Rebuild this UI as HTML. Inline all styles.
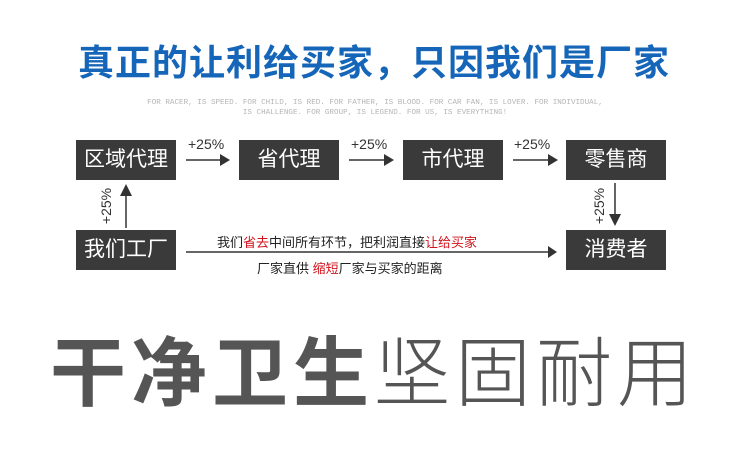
<!DOCTYPE html>
<html><head><meta charset="utf-8"><style>
body{margin:0;width:750px;height:451px;background:#fff;position:relative;overflow:hidden;font-family:"Liberation Sans","Noto Sans CJK SC",sans-serif}
.a{position:absolute;white-space:nowrap}
.box{position:absolute;width:100px;height:40px;background:#3a3a3a;color:#fff;font-size:21px;line-height:40px;text-align:center}
.p{position:absolute;font-size:14px;color:#333}
.r{color:#d0121b}
</style></head><body>
<div class="a" style="left:78px;top:34px;font-size:36px;font-weight:bold;color:#1565b8;letter-spacing:1px">真正的让利给买家，只因我们是厂家</div>
<div class="a" style="left:0;width:750px;top:98px;text-align:center;font-family:'Liberation Mono',monospace;font-size:7.6px;line-height:10px;color:#b5b5b5">FOR RACER, IS SPEED. FOR CHILD, IS RED. FOR FATHER, IS BLOOD. FOR CAR FAN, IS LOVER. FOR INDIVIDUAL,<br>IS CHALLENGE. FOR GROUP, IS LEGEND. FOR US, IS EVERYTHING!</div>
<div class="box" style="left:76px;top:140px">区域代理</div>
<div class="box" style="left:239px;top:140px">省代理</div>
<div class="box" style="left:403px;top:140px">市代理</div>
<div class="box" style="left:566px;top:140px">零售商</div>
<div class="box" style="left:76px;top:230px">我们工厂</div>
<div class="box" style="left:566px;top:230px">消费者</div>
<div class="p" style="left:188px;top:136px">+25%</div>
<div class="p" style="left:351px;top:136px">+25%</div>
<div class="p" style="left:514px;top:136px">+25%</div>
<div class="p" style="left:88px;top:198px;transform:rotate(-90deg)">+25%</div>
<div class="p" style="left:581px;top:198px;transform:rotate(-90deg)">+25%</div>
<svg class="a" style="left:0;top:0" width="750" height="451">
<g fill="#333" stroke="#333" stroke-width="1.5">
<line x1="186" y1="160" x2="222" y2="160"/><polygon points="220,154 230,160 220,166" stroke="none"/>
<line x1="349" y1="160" x2="386" y2="160"/><polygon points="384,154 394,160 384,166" stroke="none"/>
<line x1="513" y1="160" x2="550" y2="160"/><polygon points="548,154 558,160 548,166" stroke="none"/>
<line x1="126" y1="228" x2="126" y2="194"/><polygon points="120,196 126,184 132,196" stroke="none"/>
<line x1="615" y1="183" x2="615" y2="216"/><polygon points="609,214 615,226 621,214" stroke="none"/>
<line x1="186" y1="252" x2="550" y2="252"/><polygon points="548,246 557,252 548,258" stroke="none"/>
</g></svg>
<div class="a" style="left:217px;top:232px;font-size:13px;color:#222">我们<span class="r">省去</span>中间所有环节，把利润直接<span class="r">让给买家</span></div>
<div class="a" style="left:257px;top:258px;font-size:13px;color:#222">厂家直供 <span class="r">缩短</span>厂家与买家的距离</div>
<div class="a" style="left:50px;top:330px;font-size:76px;line-height:90px;color:#555;letter-spacing:5px"><b>干净卫生</b><span style="font-weight:300">坚固耐用</span></div>
</body></html>
